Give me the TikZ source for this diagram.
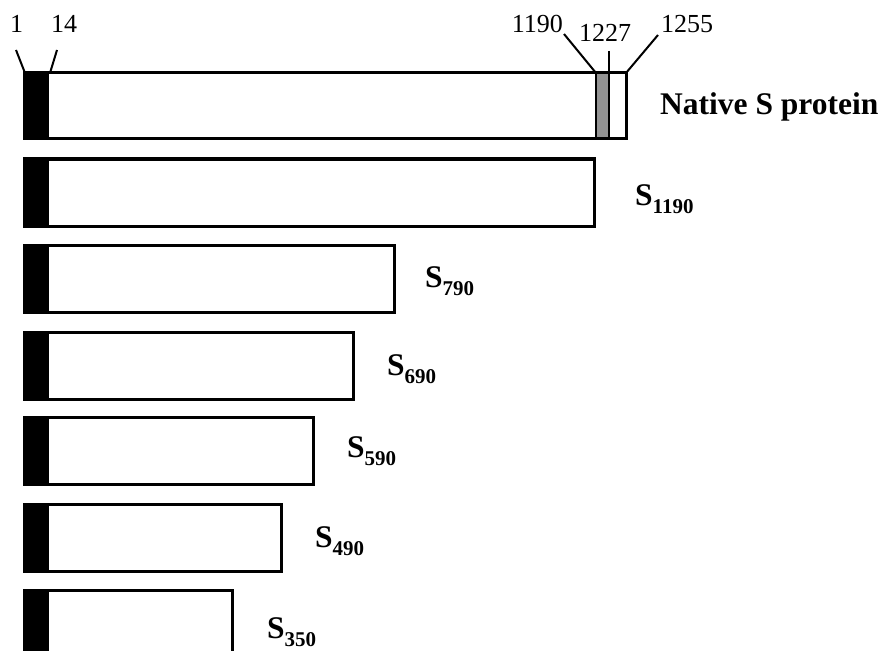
\documentclass[tikz,border=0pt]{standalone}
\usepackage{fontspec}
\setmainfont{Liberation Serif}
\newcommand{\sublab}[1]{S\raisebox{-8bp}{\fontsize{21bp}{22bp}\selectfont #1}}
\begin{document}
\begin{tikzpicture}[x=1bp,y=-1bp,
  barline/.style={line width=3bp, draw=black, fill=white},
  blackcap/.style={fill=black},
  leader/.style={line width=2bp},
  num/.style={inner sep=0pt, font=\fontsize{26bp}{30bp}\selectfont},
  lab/.style={inner sep=0pt, font=\fontsize{31.5bp}{34bp}\selectfont\bfseries}]
\clip (0,0) rectangle (882,651);
\useasboundingbox (0,0) rectangle (882,651);
% native protein
\draw[barline] (24,73) rectangle (626,139);
\fill[blackcap] (24,73) rectangle (49,139);
\fill[gray!85] (596,74) rectangle (609,138);
\draw[barline,fill=none] (24,73) rectangle (626,139);
\draw[line width=2.4bp] (596,73) -- (596,139);
\draw[line width=2.4bp] (609,73) -- (609,139);
\coordinate (p1) at (25,73);
\coordinate (p14) at (50,73);
\coordinate (p1190) at (596,73);
\coordinate (p1227) at (609,73);
\coordinate (p1255) at (626,73);
\node[num, anchor=base west] (n1) at (10,33) {1};
\node[num, anchor=base west] (n14) at (51,33) {14};
\node[num, anchor=base east] (n1190) at (563,33) {1190};
\node[num, anchor=base west] (n1227) at (579,42) {1227};
\node[num, anchor=base west] (n1255) at (661,33) {1255};
\draw[leader] (16,50) -- (p1);
\draw[leader] (57,50) -- (p14);
\draw[leader] (564,34) -- (p1190);
\draw[leader] (609,51) -- (p1227);
\draw[leader] (658,35) -- (p1255);
\node[lab, anchor=base west] (native) at (660,115) {Native S protein};
% truncated constructs
\foreach \t/\r/\lx/\lb/\nm in {159/594/635/205/1190, 245/394/425/287/790, 332/353/387/375/690, 417/313/347/457/590, 504/281/315/547/490, 590/232/267/638/350}{
  \pgfmathsetmacro{\bt}{\t+67}
  \draw[barline] (24,\t) rectangle (\r,\bt);
  \fill[blackcap] (24,\t) rectangle (49,\bt);
  \draw[barline,fill=none] (24,\t) rectangle (\r,\bt);
  \node[lab, anchor=base west] (s\nm) at (\lx,\lb) {\sublab{\nm}};
}
\end{tikzpicture}
\end{document}
